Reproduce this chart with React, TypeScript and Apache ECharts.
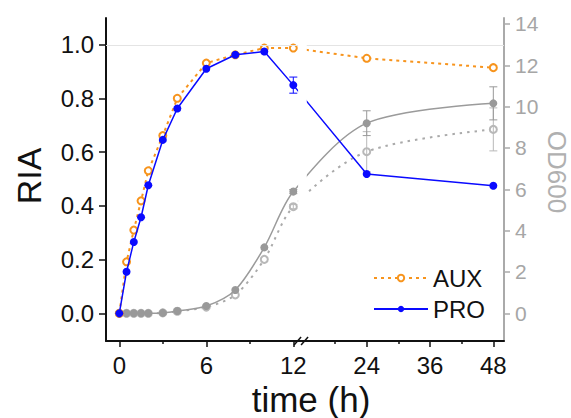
import React, { useEffect, useRef } from 'react';
import * as echarts from 'echarts';

// ---- data ----
const timeH = [0, 0.5, 1, 1.5, 2, 3, 4, 6, 8, 10, 12, 24, 48];
const riaAUX = [0, 0.192, 0.31, 0.419, 0.531, 0.662, 0.801, 0.932, 0.963, 0.988, 0.988, 0.95, 0.915];
const riaPRO = [0, 0.155, 0.266, 0.358, 0.477, 0.646, 0.763, 0.911, 0.963, 0.975, 0.85, 0.519, 0.475];
const riaPROErr = [0, 0, 0, 0, 0, 0, 0, 0, 0, 0, 0.03, 0, 0];
const odPRO = [0, 0, 0, 0, 0, 0.02, 0.11, 0.35, 1.13, 3.19, 5.89, 9.2, 10.16];
const odAUX = [0, 0, 0, 0, 0, 0.02, 0.1, 0.3, 0.89, 2.61, 5.16, 7.82, 8.9];
const odPROErr = [0, 0, 0, 0, 0, 0, 0, 0, 0, 0, 0.1, 0.6, 0.8];
const odAUXErr = [0, 0, 0, 0, 0, 0, 0, 0, 0, 0, 0.1, 0.97, 1.04];

const xTicks = [0, 6, 12, 24, 36, 48];
const xMinorTicks = [3, 9, 18, 30, 42];
const riaTicks = [0, 0.2, 0.4, 0.6, 0.8, 1.0];
const odTicks = [0, 2, 4, 6, 8, 10, 12, 14];

// broken time axis: 0-12 h at full scale, 12-48 h compressed after a gap
const BREAK_AT = 12;
const GAP = 0.697;
const K = 0.3638;
const tx = (t: number) => (t <= BREAK_AT ? t : BREAK_AT + GAP + (t - BREAK_AT) * K);
const untx = (u: number) => (u <= BREAK_AT + 1e-6 ? u : BREAK_AT + (u - BREAK_AT - GAP) / K);

const FONT = 'Liberation Sans, Arial, Helvetica, sans-serif';
const ORANGE = '#f7941d';
const BLUE = '#0a0aff';
const GRAY = '#999999';
const LGRAY = '#b8b8b8';

const pairs = (vals: number[]) => timeH.map((t, i) => [tx(t), vals[i]]);
const errRows = (vals: number[], errs: number[]) =>
  timeH
    .map((t, i) => [tx(t), vals[i] - errs[i], vals[i] + errs[i], errs[i]])
    .filter((r) => r[3] > 0);

const errSeries = (rows: number[][], color: string, yAxisIndex: number, z: number) => ({
  type: 'custom',
  yAxisIndex,
  z,
  silent: true,
  data: rows,
  encode: { x: 0, y: [1, 2] },
  renderItem: (params: any, api: any) => {
    const x = api.value(0);
    const p1 = api.coord([x, api.value(1)]);
    const p2 = api.coord([x, api.value(2)]);
    const w = 4;
    const st = { stroke: color, lineWidth: 1 };
    return {
      type: 'group',
      children: [
        { type: 'line', shape: { x1: p1[0], y1: p1[1], x2: p2[0], y2: p2[1] }, style: st },
        { type: 'line', shape: { x1: p1[0] - w, y1: p1[1], x2: p1[0] + w, y2: p1[1] }, style: st },
        { type: 'line', shape: { x1: p2[0] - w, y1: p2[1], x2: p2[0] + w, y2: p2[1] }, style: st },
      ],
    };
  },
});

export default function App() {
  const ref = useRef<HTMLDivElement>(null);
  useEffect(() => {
    if (!ref.current) return;
    const chart = echarts.init(ref.current, null, { renderer: 'svg' });
    const xmin = -0.917;
    const xmax = 26.53;
    chart.setOption({
      animation: false,
      textStyle: { fontFamily: FONT },
      grid: { left: 106, right: 67, top: 18, bottom: 77 },
      legend: {
        data: ['AUX', 'PRO'],
        orient: 'vertical',
        left: 368,
        top: 261,
        itemWidth: 54,
        itemHeight: 8,
        itemGap: 7,
        textStyle: { fontSize: 24, color: '#111', fontFamily: FONT },
      },
      xAxis: [
        {
          type: 'value',
          min: xmin,
          max: xmax,
          splitLine: { show: false },
          axisLine: { show: true, onZero: false, lineStyle: { color: '#111', width: 2 } },
          axisTick: {
            show: true,
            customValues: xTicks.map(tx),
            length: 6,
            lineStyle: { color: '#111', width: 1.5 },
          },
          axisLabel: {
            customValues: xTicks.map(tx),
            formatter: (v: number) => String(Math.round(untx(v))),
            fontSize: 24,
            color: '#111',
            margin: 12,
          },
        },
        {
          type: 'value',
          min: xmin,
          max: xmax,
          position: 'bottom',
          splitLine: { show: false },
          axisLine: { show: false, onZero: false },
          axisTick: {
            show: true,
            customValues: xMinorTicks.map(tx),
            length: 3,
            lineStyle: { color: '#111', width: 1.5 },
          },
          axisLabel: { show: false },
        },
      ],
      yAxis: [
        {
          type: 'value',
          min: -0.103,
          max: 1.1,
          splitLine: { show: false },
          axisLine: { show: true, onZero: false, lineStyle: { color: '#111', width: 2 } },
          axisTick: {
            show: true,
            customValues: riaTicks,
            length: 7,
            lineStyle: { color: '#111', width: 1.5 },
          },
          axisLabel: {
            customValues: riaTicks,
            formatter: (v: number) => v.toFixed(1),
            fontSize: 24,
            color: '#111',
            margin: 12,
          },
        },
        {
          type: 'value',
          min: -1.34,
          max: 14.29,
          position: 'right',
          splitLine: { show: false },
          axisLine: { show: true, onZero: false, lineStyle: { color: '#aaaaaa', width: 2 } },
          axisTick: {
            show: true,
            customValues: odTicks,
            length: 6,
            lineStyle: { color: '#aaaaaa', width: 1.5 },
          },
          axisLabel: {
            customValues: odTicks,
            formatter: (v: number) => String(Math.round(v)),
            fontSize: 21,
            color: '#a6a6a6',
            margin: 11,
          },
        },
      ],
      series: [
        {
          name: 'OD AUX',
          type: 'line',
          yAxisIndex: 1,
          data: pairs(odAUX),
          smooth: 0.3,
          symbol: 'emptyCircle',
          symbolSize: 7,
          itemStyle: { color: LGRAY, borderWidth: 1.2 },
          lineStyle: { color: '#aaaaaa', width: 2, type: [2.5, 5] },
          z: 2,
        },
        {
          name: 'OD PRO',
          type: 'line',
          yAxisIndex: 1,
          data: pairs(odPRO),
          smooth: 0.3,
          symbol: 'circle',
          symbolSize: 8,
          itemStyle: { color: GRAY },
          lineStyle: { color: '#9b9b9b', width: 1.5 },
          z: 3,
        },
        errSeries(errRows(odAUX, odAUXErr), LGRAY, 1, 3),
        errSeries(errRows(odPRO, odPROErr), GRAY, 1, 3),
        {
          name: 'AUX',
          type: 'line',
          yAxisIndex: 0,
          data: pairs(riaAUX),
          symbol: 'emptyCircle',
          symbolSize: 7,
          itemStyle: { color: ORANGE, borderWidth: 1.5 },
          lineStyle: { color: ORANGE, width: 2, type: [3, 4] },
          z: 4,
          markLine: {
            silent: true,
            symbol: 'none',
            label: { show: false },
            lineStyle: { color: '#e4e4e4', width: 1, type: 'solid' },
            data: [{ yAxis: 1.0 }],
          },
        },
        {
          name: 'PRO',
          type: 'line',
          yAxisIndex: 0,
          data: pairs(riaPRO),
          symbol: 'circle',
          symbolSize: 8,
          itemStyle: { color: BLUE },
          lineStyle: { color: BLUE, width: 1.5 },
          z: 5,
        },
        errSeries(errRows(riaPRO, riaPROErr), BLUE, 0, 5),
      ],
    });

    const px = (u: number) => chart.convertToPixel({ xAxisIndex: 0 }, u) as number;
    const b0 = px(12.33);
    const b1 = px(12.93);
    const axisY = 341;
    chart.setOption({
      graphic: [
        {
          type: 'rect',
          z: 20,
          silent: true,
          shape: { x: b0, y: 19, width: b1 - b0, height: axisY - 22 },
          style: { fill: '#ffffff' },
        },
        {
          type: 'line',
          z: 21,
          silent: true,
          shape: { x1: b0 - 4, y1: axisY + 4, x2: b0 + 3, y2: axisY - 4 },
          style: { stroke: '#111', lineWidth: 1.5 },
        },
        {
          type: 'line',
          z: 21,
          silent: true,
          shape: { x1: b0 + 3, y1: axisY + 4, x2: b0 + 10, y2: axisY - 4 },
          style: { stroke: '#111', lineWidth: 1.5 },
        },
        {
          type: 'text',
          x: 29,
          y: 176,
          rotation: Math.PI / 2,
          style: { text: 'RIA', fontSize: 34, fontFamily: FONT, fill: '#111', align: 'center', verticalAlign: 'middle' },
        },
        {
          type: 'text',
          x: 557,
          y: 172,
          rotation: -Math.PI / 2,
          style: { text: 'OD600', fontSize: 26, fontFamily: FONT, fill: '#b0b0b0', align: 'center', verticalAlign: 'middle' },
        },
        {
          type: 'text',
          x: 311,
          y: 399,
          style: { text: 'time (h)', fontSize: 35, fontFamily: FONT, fill: '#111', align: 'center', verticalAlign: 'middle' },
        },
      ],
    });
    return () => chart.dispose();
  }, []);
  return (
    <div
      ref={ref}
      style={{ position: 'absolute', left: 0, top: 0, width: 571, height: 418, background: '#fff' }}
    />
  );
}
